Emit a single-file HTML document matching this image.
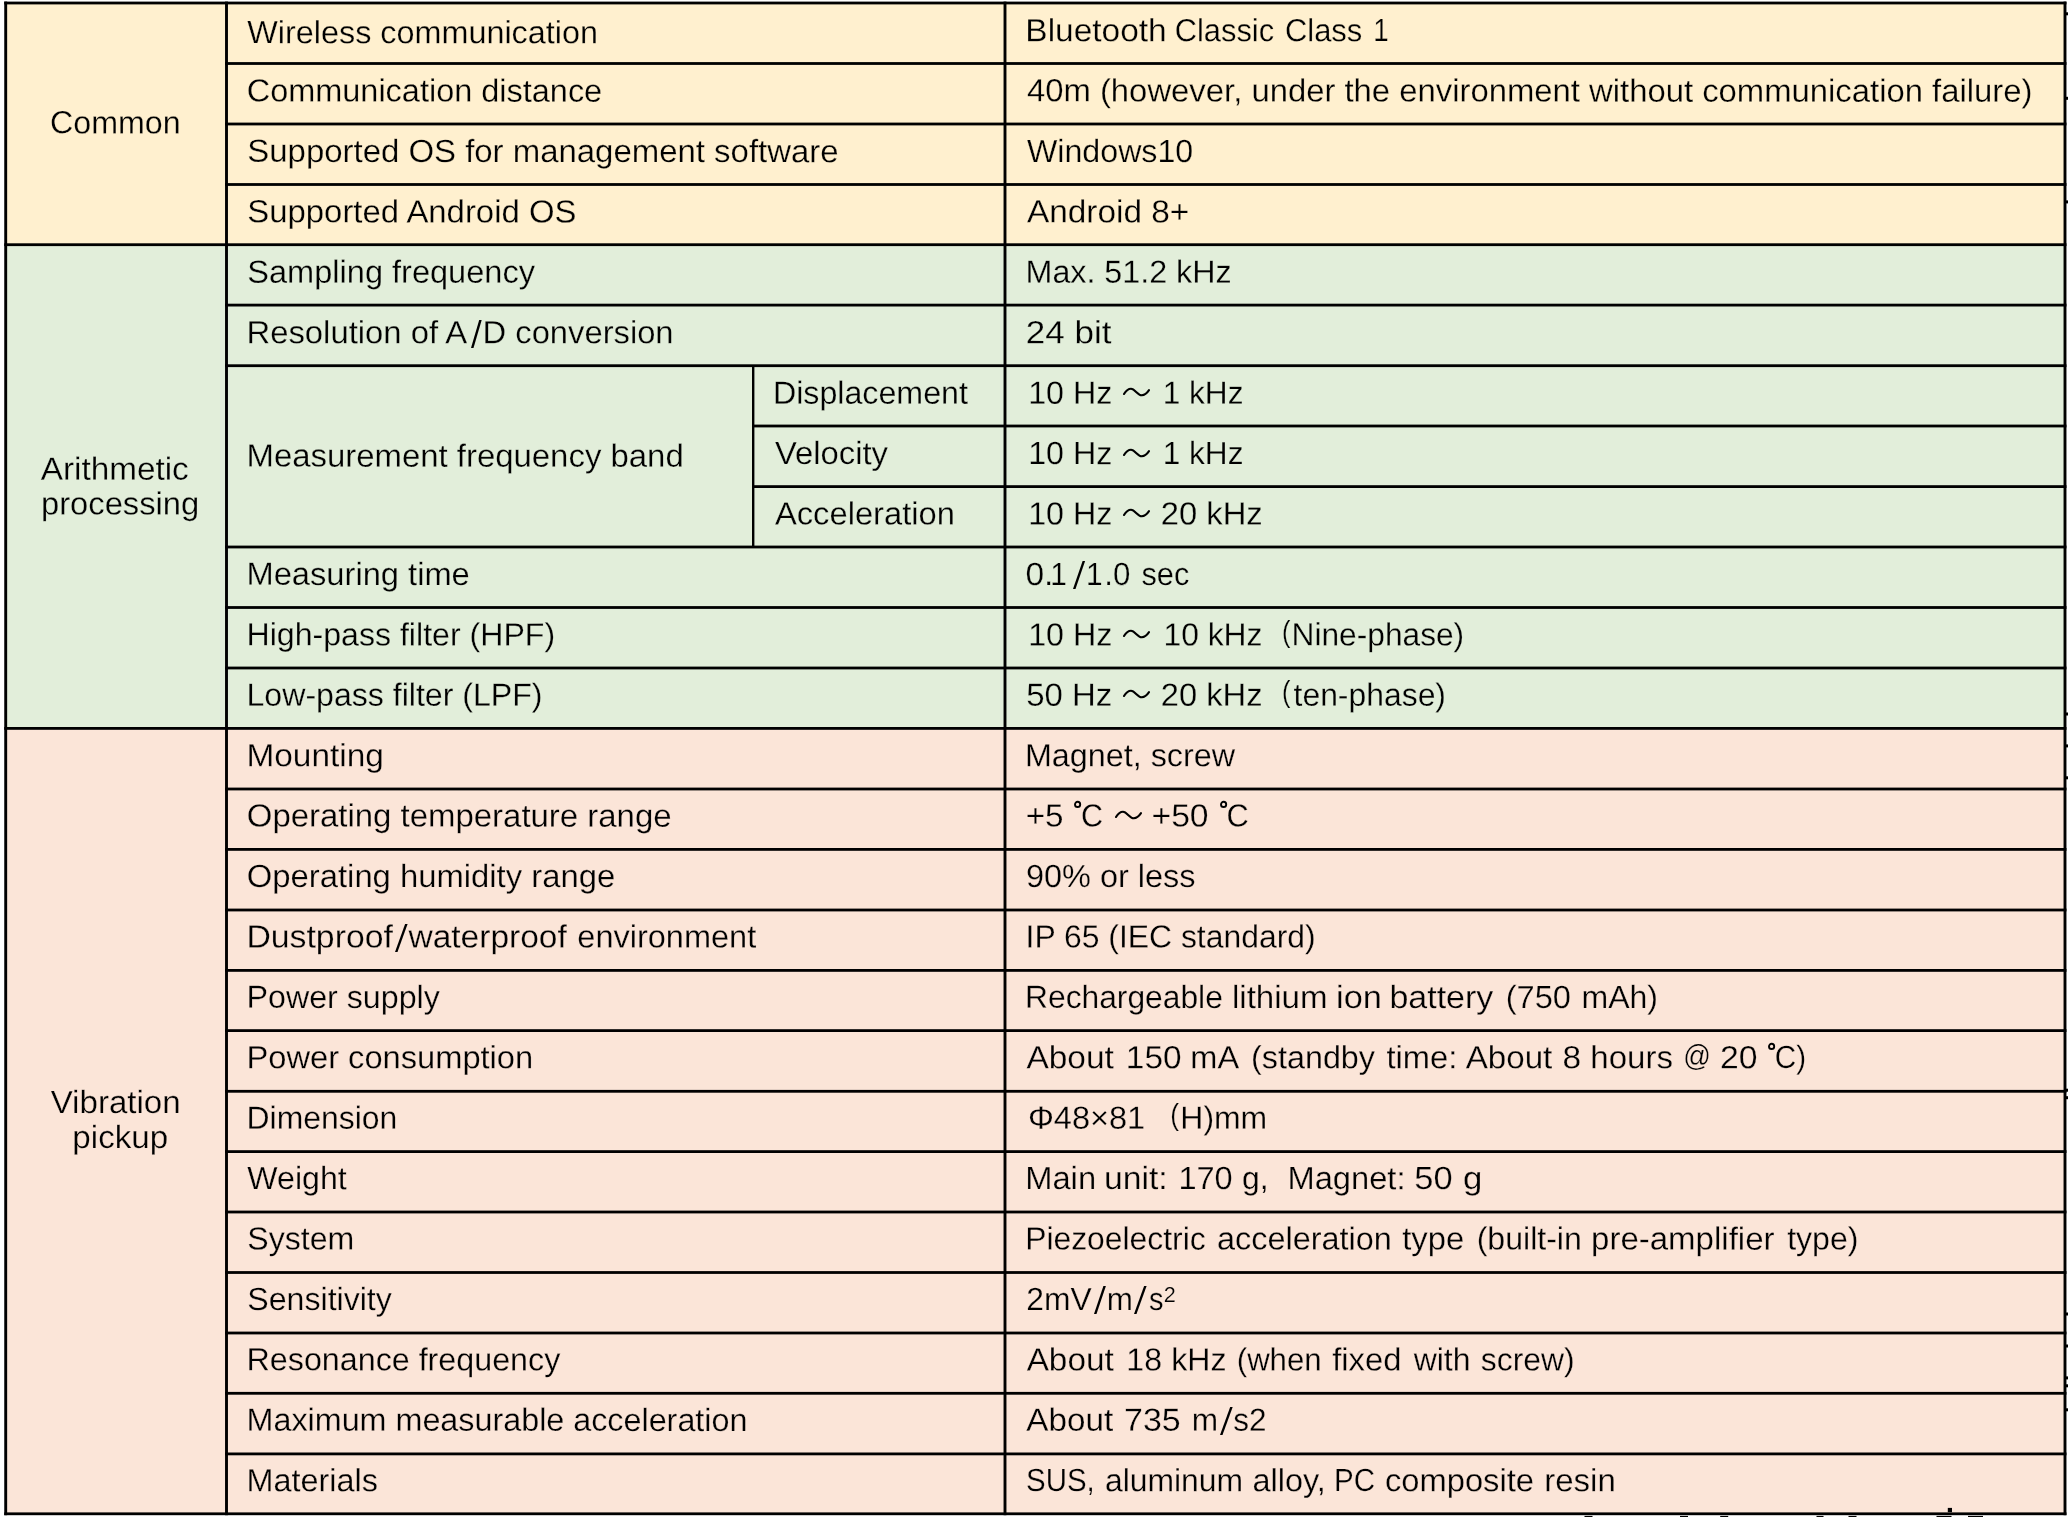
<!DOCTYPE html>
<html lang="en">
<head>
<meta charset="utf-8">
<title>Specifications</title>
<style>
html,body{margin:0;padding:0;background:#fff;overflow:hidden;}
#spec{position:relative;width:2068px;height:1517px;overflow:hidden;background:#fff;font-family:"Liberation Sans", sans-serif;font-size:32px;line-height:40px;color:#000;}
#spec div{position:absolute;}
#txt{left:0;top:0;width:2068px;height:1517px;will-change:transform;}
.t{left:0;top:0;white-space:pre;transform-origin:0 0;height:40px;}
.y{-webkit-text-stroke:0.25px #FFF0CF;}
.g{-webkit-text-stroke:0.25px #E2EEDA;}
.p{-webkit-text-stroke:0.25px #FBE5D8;}
#grid{position:absolute;left:0;top:0;fill:#000;}
#spec svg.w{position:absolute;fill:none;stroke:#000;stroke-width:2.1;stroke-linecap:round;overflow:visible;}
#spec svg.s{position:absolute;fill:#000;overflow:visible;}
#spec svg.d{position:absolute;fill:none;stroke:#000;stroke-width:1.9;overflow:visible;}
</style>
</head>
<body>
<div id="spec">
<svg id="grid" width="2068" height="1517" viewBox="0 0 2068 1517">
<rect x="5.7" y="3.0" width="2059.3" height="241.7" fill="#FFF0CF"/>
<rect x="5.7" y="244.7" width="2059.3" height="483.7" fill="#E2EEDA"/>
<rect x="5.7" y="728.4" width="2059.3" height="785.4" fill="#FBE5D8"/>
<rect x="4.25" y="1.60" width="2062.20" height="2.8"/>
<rect x="225.05" y="62.10" width="1841.40" height="2.8"/>
<rect x="225.05" y="122.60" width="1841.40" height="2.8"/>
<rect x="225.05" y="183.10" width="1841.40" height="2.8"/>
<rect x="4.25" y="243.30" width="2062.20" height="2.8"/>
<rect x="225.05" y="303.70" width="1841.40" height="2.8"/>
<rect x="225.05" y="364.30" width="1841.40" height="2.8"/>
<rect x="752.00" y="424.60" width="1314.45" height="2.8"/>
<rect x="752.00" y="485.20" width="1314.45" height="2.8"/>
<rect x="225.05" y="545.60" width="1841.40" height="2.8"/>
<rect x="225.05" y="606.10" width="1841.40" height="2.8"/>
<rect x="225.05" y="666.60" width="1841.40" height="2.8"/>
<rect x="4.25" y="727.00" width="2062.20" height="2.8"/>
<rect x="225.05" y="787.60" width="1841.40" height="2.8"/>
<rect x="225.05" y="848.00" width="1841.40" height="2.8"/>
<rect x="225.05" y="908.60" width="1841.40" height="2.8"/>
<rect x="225.05" y="969.00" width="1841.40" height="2.8"/>
<rect x="225.05" y="1029.20" width="1841.40" height="2.8"/>
<rect x="225.05" y="1089.90" width="1841.40" height="2.8"/>
<rect x="225.05" y="1150.20" width="1841.40" height="2.8"/>
<rect x="225.05" y="1210.60" width="1841.40" height="2.8"/>
<rect x="225.05" y="1271.10" width="1841.40" height="2.8"/>
<rect x="225.05" y="1331.60" width="1841.40" height="2.8"/>
<rect x="225.05" y="1391.90" width="1841.40" height="2.8"/>
<rect x="225.05" y="1452.50" width="1841.40" height="2.8"/>
<rect x="4.25" y="1512.40" width="2062.20" height="2.8"/>
<rect x="4.25" y="1.60" width="2.9" height="1513.60"/>
<rect x="225.05" y="1.60" width="2.9" height="1513.60"/>
<rect x="1003.55" y="1.60" width="2.9" height="1513.60"/>
<rect x="2063.55" y="1.60" width="2.9" height="1513.60"/>
<rect x="752.00" y="365.70" width="2.4" height="181.30"/>
<rect x="2065.5" y="12.3" width="2.5" height="3.0"/>
<rect x="2065.5" y="96.8" width="2.5" height="3.0"/>
<rect x="2065.5" y="200.4" width="2.5" height="3.0"/>
<rect x="2065.5" y="712.5" width="2.5" height="3.0"/>
<rect x="2065.5" y="744.4" width="2.5" height="3.0"/>
<rect x="2065.5" y="776.3" width="2.5" height="3.0"/>
<rect x="2065.5" y="1088.7" width="2.5" height="3.0"/>
<rect x="2065.5" y="1096.2" width="2.5" height="3.0"/>
<rect x="2065.5" y="1312.5" width="2.5" height="3.0"/>
<rect x="2065.5" y="1344.5" width="2.5" height="3.0"/>
<rect x="2065.5" y="1376.4" width="2.5" height="3.0"/>
<rect x="2065.5" y="1384.3" width="2.5" height="3.0"/>
<rect x="2065.5" y="1408.3" width="2.5" height="3.0"/>
<rect x="1584.5" y="1515.9" width="8" height="1.1"/>
<rect x="1680" y="1515.9" width="8" height="1.1"/>
<rect x="1720.2" y="1515.9" width="8" height="1.1"/>
<rect x="1816.5" y="1515.9" width="7" height="1.1"/>
<rect x="1848.5" y="1515.9" width="8" height="1.1"/>
<rect x="1936.5" y="1515.9" width="15" height="1.1"/>
<rect x="1968" y="1515.9" width="15" height="1.1"/>
<rect x="1947.8" y="1507.9" width="4.2" height="4.3"/>
</svg>
<div id="txt">
<div class="t y" style="transform:translate(50.14px,102.37px) rotate(0.03deg) scaleX(1.0054)">Common</div>
<div class="t g" style="transform:translate(40.75px,448.67px) rotate(0.03deg) scaleX(1.0404)">Arithmetic</div>
<div class="t g" style="transform:translate(41.00px,483.47px) rotate(0.03deg) scaleX(1.0228)">processing</div>
<div class="t p" style="transform:translate(50.65px,1081.97px) rotate(0.03deg) scaleX(1.0345)">Vibration</div>
<div class="t p" style="transform:translate(72.38px,1116.98px) rotate(0.03deg) scaleX(1.0345)">pickup</div>
<div class="t y" style="transform:translate(247.35px,12.11px) rotate(0.03deg) scaleX(1.0111)">Wireless communication</div>
<div class="t y" style="transform:translate(246.74px,70.51px) rotate(0.03deg) scaleX(1.0144)">Communication distance</div>
<div class="t y" style="transform:translate(247.32px,130.85px) rotate(0.03deg) scaleX(1.0291)">Supported OS for management software</div>
<div class="t y" style="transform:translate(247.32px,191.32px) rotate(0.03deg) scaleX(1.0277)">Supported Android OS</div>
<div class="t g" style="transform:translate(247.33px,251.73px) rotate(0.03deg) scaleX(1.0169)">Sampling frequency</div>
<div class="t g" style="transform:translate(246.50px,312.25px) rotate(0.03deg) scaleX(1.0256)">Resolution of A</div>
<svg class="s" style="left:470.6px;top:319.6px" width="10.7" height="28.0" viewBox="0 0 10.7 28.0"><polygon points="0,28.0 2.5,28.0 10.7,0 8.2,0"/></svg>
<div class="t g" style="transform:translate(482.60px,312.26px) rotate(0.03deg) scaleX(1.0227)">D conversion</div>
<div class="t g" style="transform:translate(246.49px,435.59px) rotate(0.03deg) scaleX(1.0284)">Measurement frequency band</div>
<div class="t g" style="transform:translate(246.51px,553.85px) rotate(0.03deg) scaleX(1.0206)">Measuring time</div>
<div class="t g" style="transform:translate(246.54px,614.33px) rotate(0.03deg) scaleX(1.0031)">High-pass filter (HPF)</div>
<div class="t g" style="transform:translate(246.54px,674.73px) rotate(0.03deg) scaleX(1.0026)">Low-pass filter (LPF)</div>
<div class="t p" style="transform:translate(246.46px,735.17px) rotate(0.03deg) scaleX(1.0435)">Mounting</div>
<div class="t p" style="transform:translate(246.82px,795.50px) rotate(0.03deg) scaleX(1.0292)">Operating temperature range</div>
<div class="t p" style="transform:translate(246.82px,855.91px) rotate(0.03deg) scaleX(1.0251)">Operating humidity range</div>
<div class="t p" style="transform:translate(246.44px,916.47px) rotate(0.03deg) scaleX(1.0552)">Dustproof</div>
<svg class="s" style="left:394.5px;top:923.8px" width="12.6" height="28.0" viewBox="0 0 12.6 28.0"><polygon points="0,28.0 2.5,28.0 12.6,0 10.1,0"/></svg>
<div class="t p" style="transform:translate(408.50px,916.46px) rotate(0.03deg) scaleX(1.0466)">waterproof</div>
<div class="t p" style="transform:translate(577.33px,916.46px) rotate(0.03deg) scaleX(1.0160)">environment</div>
<div class="t p" style="transform:translate(246.54px,976.86px) rotate(0.03deg) scaleX(1.0063)">Power supply</div>
<div class="t p" style="transform:translate(246.51px,1037.23px) rotate(0.03deg) scaleX(1.0201)">Power consumption</div>
<div class="t p" style="transform:translate(246.56px,1097.67px) rotate(0.03deg) scaleX(0.9968)">Dimension</div>
<div class="t p" style="transform:translate(247.35px,1158.08px) rotate(0.03deg) scaleX(1.0038)">Weight</div>
<div class="t p" style="transform:translate(247.35px,1218.58px) rotate(0.03deg) scaleX(1.0016)">System</div>
<div class="t p" style="transform:translate(247.35px,1278.97px) rotate(0.03deg) scaleX(1.0032)">Sensitivity</div>
<div class="t p" style="transform:translate(246.53px,1339.32px) rotate(0.03deg) scaleX(1.0080)">Resonance frequency</div>
<div class="t p" style="transform:translate(246.53px,1399.68px) rotate(0.03deg) scaleX(1.0095)">Maximum measurable acceleration</div>
<div class="t p" style="transform:translate(246.53px,1460.17px) rotate(0.03deg) scaleX(1.0117)">Materials</div>
<div class="t g" style="transform:translate(772.94px,372.66px) rotate(0.03deg) scaleX(1.0059)">Displacement</div>
<div class="t g" style="transform:translate(774.95px,433.08px) rotate(0.03deg) scaleX(1.0247)">Velocity</div>
<div class="t g" style="transform:translate(774.95px,493.46px) rotate(0.03deg) scaleX(1.0218)">Acceleration</div>
<div class="t y" style="transform:translate(1025.36px,10.17px) rotate(0.03deg) scaleX(1.0447)">Bluetooth</div>
<div class="t y" style="transform:translate(1174.79px,10.18px) rotate(0.03deg) scaleX(0.9625)">Classic</div>
<div class="t y" style="transform:translate(1284.98px,10.19px) rotate(0.03deg) scaleX(0.9665)">Class</div>
<div class="t y" style="transform:translate(1373.32px,10.20px) rotate(0.03deg) scaleX(0.8667)">1</div>
<div class="t y" style="transform:translate(1026.95px,70.34px) rotate(0.03deg) scaleX(1.0260)">40m (however, under the environment without communication failure)</div>
<div class="t y" style="transform:translate(1026.95px,130.96px) rotate(0.03deg) scaleX(1.0054)">Windows10</div>
<div class="t y" style="transform:translate(1026.95px,191.36px) rotate(0.03deg) scaleX(1.0427)">Android 8+</div>
<div class="t g" style="transform:translate(1025.54px,251.75px) rotate(0.03deg) scaleX(1.0074)">Max. 51.2 kHz</div>
<div class="t g" style="transform:translate(1025.86px,312.28px) rotate(0.03deg) scaleX(1.0932)">24 bit</div>
<div class="t g" style="transform:translate(1028.24px,372.69px) rotate(0.03deg) scaleX(1.0050)">10 Hz</div>
<div class="t g" style="transform:translate(1162.68px,372.69px) rotate(0.03deg) scaleX(0.9873)">1 kHz</div>
<div class="t g" style="transform:translate(1028.24px,433.09px) rotate(0.03deg) scaleX(1.0050)">10 Hz</div>
<div class="t g" style="transform:translate(1162.68px,433.09px) rotate(0.03deg) scaleX(0.9873)">1 kHz</div>
<div class="t g" style="transform:translate(1028.24px,493.49px) rotate(0.03deg) scaleX(1.0050)">10 Hz</div>
<div class="t g" style="transform:translate(1160.73px,493.48px) rotate(0.03deg) scaleX(1.0236)">20 kHz</div>
<div class="t g" style="transform:translate(1025.40px,553.90px) rotate(0.03deg) scaleX(1.0484)">0.</div>
<div class="t g" style="transform:translate(1050.18px,553.90px) rotate(0.03deg) scaleX(0.9333)">1</div>
<svg class="s" style="left:1072.6px;top:561.2px" width="12.1" height="28.0" viewBox="0 0 12.1 28.0"><polygon points="0,28.0 2.5,28.0 12.1,0 9.6,0"/></svg>
<div class="t g" style="transform:translate(1085.98px,553.90px) rotate(0.03deg) scaleX(0.9333)">1</div>
<div class="t g" style="transform:translate(1104.30px,553.90px) rotate(0.03deg) scaleX(0.9753)">.0</div>
<div class="t g" style="transform:translate(1141.55px,553.89px) rotate(0.03deg) scaleX(0.9579)">sec</div>
<div class="t g" style="transform:translate(1028.24px,614.39px) rotate(0.03deg) scaleX(1.0050)">10 Hz</div>
<div class="t g" style="transform:translate(1163.46px,614.38px) rotate(0.03deg) scaleX(0.9939)">10 kHz</div>
<div class="t g" style="transform-origin:0 31.09px;transform:translate(1281.96px,610.73px) rotate(0.03deg) scale(0.7900,0.9100)">(</div>
<div class="t g" style="transform:translate(1291.57px,614.36px) rotate(0.03deg) scaleX(0.9903)">Nine-phase)</div>
<div class="t g" style="transform:translate(1026.22px,674.78px) rotate(0.03deg) scaleX(1.0295)">50 Hz</div>
<div class="t g" style="transform:translate(1160.83px,674.78px) rotate(0.03deg) scaleX(1.0206)">20 kHz</div>
<div class="t g" style="transform-origin:0 31.09px;transform:translate(1281.96px,671.13px) rotate(0.03deg) scale(0.7900,0.9100)">(</div>
<div class="t g" style="transform:translate(1293.55px,674.77px) rotate(0.03deg) scaleX(0.9965)">ten-phase)</div>
<div class="t p" style="transform:translate(1024.93px,735.15px) rotate(0.03deg) scaleX(1.0098)">Magnet, screw</div>
<div class="t p" style="transform:translate(1025.71px,795.60px) rotate(0.03deg) scaleX(1.0378)">+5</div>
<div class="t p" style="transform:translate(1081.00px,795.60px) rotate(0.03deg) scaleX(0.9524)">C</div>
<div class="t p" style="transform:translate(1151.50px,795.59px) rotate(0.03deg) scaleX(1.0517)">+50</div>
<div class="t p" style="transform:translate(1226.59px,795.60px) rotate(0.03deg) scaleX(0.9619)">C</div>
<div class="t p" style="transform:translate(1025.94px,855.96px) rotate(0.03deg) scaleX(1.0146)">90% or less</div>
<div class="t p" style="transform:translate(1025.56px,916.43px) rotate(0.03deg) scaleX(0.9964)">IP 65 (IEC standard)</div>
<div class="t p" style="transform:translate(1025.06px,976.86px) rotate(0.03deg) scaleX(0.9926)">Rechargeable</div>
<div class="t p" style="transform:translate(1231.98px,976.88px) rotate(0.03deg) scaleX(1.0336)">lithium</div>
<div class="t p" style="transform:translate(1336.11px,976.90px) rotate(0.03deg) scaleX(1.0718)">ion</div>
<div class="t p" style="transform:translate(1389.43px,976.88px) rotate(0.03deg) scaleX(1.0623)">battery</div>
<div class="t p" style="transform:translate(1505.73px,976.89px) rotate(0.03deg) scaleX(1.0185)">(750</div>
<div class="t p" style="transform:translate(1581.45px,976.89px) rotate(0.03deg) scaleX(1.0014)">mAh)</div>
<div class="t p" style="transform:translate(1026.45px,1037.28px) rotate(0.03deg) scaleX(1.0450)">About</div>
<div class="t p" style="transform:translate(1125.86px,1037.29px) rotate(0.03deg) scaleX(1.0436)">150</div>
<div class="t p" style="transform:translate(1190.32px,1037.29px) rotate(0.03deg) scaleX(1.0159)">mA</div>
<div class="t p" style="transform:translate(1251.14px,1037.27px) rotate(0.03deg) scaleX(1.0088)">(standby</div>
<div class="t p" style="transform:translate(1386.55px,1037.29px) rotate(0.03deg) scaleX(1.0203)">time:</div>
<div class="t p" style="transform:translate(1465.65px,1037.28px) rotate(0.03deg) scaleX(1.0366)">About</div>
<div class="t p" style="transform:translate(1562.41px,1037.30px) rotate(0.03deg) scaleX(1.0437)">8</div>
<div class="t p" style="transform:translate(1590.39px,1037.29px) rotate(0.03deg) scaleX(1.0318)">hours</div>
<div class="t p" style="transform-origin:0 31.09px;transform:translate(1683.15px,1034.59px) rotate(0.03deg) scale(0.8500,0.9037)">@</div>
<div class="t p" style="transform:translate(1720.10px,1037.30px) rotate(0.03deg) scaleX(1.0534)">20</div>
<div class="t p" style="transform:translate(1774.82px,1037.30px) rotate(0.03deg) scaleX(0.9258)">C)</div>
<div class="t p" style="transform:translate(1027.93px,1097.68px) rotate(0.03deg) scaleX(1.0158)">Φ48×81</div>
<div class="t p" style="transform-origin:0 31.09px;transform:translate(1170.23px,1094.03px) rotate(0.03deg) scale(0.8200,0.9100)">(</div>
<div class="t p" style="transform:translate(1180.36px,1097.68px) rotate(0.03deg) scaleX(0.9973)">H)mm</div>
<div class="t p" style="transform:translate(1025.21px,1158.09px) rotate(0.03deg) scaleX(1.0219)">Main</div>
<div class="t p" style="transform:translate(1104.05px,1158.09px) rotate(0.03deg) scaleX(1.0523)">unit:</div>
<div class="t p" style="transform:translate(1178.41px,1158.09px) rotate(0.03deg) scaleX(1.0179)">170</div>
<div class="t p" style="transform:translate(1242.05px,1158.10px) rotate(0.03deg) scaleX(0.9959)">g,</div>
<div class="t p" style="transform:translate(1287.51px,1158.08px) rotate(0.03deg) scaleX(1.0205)">Magnet:</div>
<div class="t p" style="transform:translate(1414.27px,1158.10px) rotate(0.03deg) scaleX(1.0770)">50</div>
<div class="t p" style="transform:translate(1462.96px,1158.10px) rotate(0.03deg) scaleX(1.0867)">g</div>
<div class="t p" style="transform:translate(1025.16px,1218.56px) rotate(0.03deg) scaleX(0.9955)">Piezoelectric</div>
<div class="t p" style="transform:translate(1217.04px,1218.56px) rotate(0.03deg) scaleX(1.0127)">acceleration</div>
<div class="t p" style="transform:translate(1402.25px,1218.59px) rotate(0.03deg) scaleX(1.0237)">type</div>
<div class="t p" style="transform:translate(1476.65px,1218.58px) rotate(0.03deg) scaleX(1.0027)">(built-in</div>
<div class="t p" style="transform:translate(1591.09px,1218.56px) rotate(0.03deg) scaleX(1.0314)">pre-amplifier</div>
<div class="t p" style="transform:translate(1787.15px,1218.59px) rotate(0.03deg) scaleX(1.0017)">type)</div>
<div class="t p" style="transform:translate(1026.36px,1278.99px) rotate(0.03deg) scaleX(0.9946)">2mV</div>
<svg class="s" style="left:1094.2px;top:1286.3px" width="11.9" height="28.0" viewBox="0 0 11.9 28.0"><polygon points="0,28.0 2.5,28.0 11.9,0 9.4,0"/></svg>
<div class="t p" style="transform:translate(1106.88px,1279.00px) rotate(0.03deg) scaleX(0.9826)">m</div>
<svg class="s" style="left:1134.4px;top:1286.3px" width="12.6" height="28.0" viewBox="0 0 12.6 28.0"><polygon points="0,28.0 2.5,28.0 12.6,0 10.1,0"/></svg>
<div class="t p" style="transform:translate(1149.05px,1279.00px) rotate(0.03deg) scaleX(0.9067)">s</div>
<div class="t p" style="transform-origin:0 31.09px;transform:translate(1163.67px,1270.90px) rotate(0.03deg) scale(0.6750,0.6636)">2</div>
<div class="t p" style="transform:translate(1026.65px,1339.38px) rotate(0.03deg) scaleX(1.0414)">About</div>
<div class="t p" style="transform:translate(1126.35px,1339.40px) rotate(0.03deg) scaleX(1.0001)">18</div>
<div class="t p" style="transform:translate(1171.35px,1339.39px) rotate(0.03deg) scaleX(1.0017)">kHz</div>
<div class="t p" style="transform:translate(1236.78px,1339.38px) rotate(0.03deg) scaleX(0.9732)">(when</div>
<div class="t p" style="transform:translate(1332.25px,1339.39px) rotate(0.03deg) scaleX(1.0228)">fixed</div>
<div class="t p" style="transform:translate(1413.65px,1339.39px) rotate(0.03deg) scaleX(0.9981)">with</div>
<div class="t p" style="transform:translate(1480.85px,1339.38px) rotate(0.03deg) scaleX(0.9939)">screw)</div>
<div class="t p" style="transform:translate(1026.35px,1399.78px) rotate(0.03deg) scaleX(1.0378)">About</div>
<div class="t p" style="transform:translate(1124.09px,1399.79px) rotate(0.03deg) scaleX(1.0602)">735</div>
<div class="t p" style="transform:translate(1191.68px,1399.80px) rotate(0.03deg) scaleX(0.9870)">m</div>
<svg class="s" style="left:1219.5px;top:1407.1px" width="12.7" height="28.0" viewBox="0 0 12.7 28.0"><polygon points="0,28.0 2.5,28.0 12.7,0 10.2,0"/></svg>
<div class="t p" style="transform:translate(1233.25px,1399.80px) rotate(0.03deg) scaleX(0.9848)">s2</div>
<div class="t p" style="transform:translate(1026.13px,1460.19px) rotate(0.03deg) scaleX(0.9193)">SUS,</div>
<div class="t p" style="transform:translate(1104.95px,1460.17px) rotate(0.03deg) scaleX(0.9959)">aluminum</div>
<div class="t p" style="transform:translate(1252.44px,1460.19px) rotate(0.03deg) scaleX(1.0139)">alloy,</div>
<div class="t p" style="transform:translate(1334.01px,1460.20px) rotate(0.03deg) scaleX(0.9215)">PC</div>
<div class="t p" style="transform:translate(1384.93px,1460.17px) rotate(0.03deg) scaleX(1.0219)">composite</div>
<div class="t p" style="transform:translate(1544.29px,1460.19px) rotate(0.03deg) scaleX(1.0311)">resin</div>
</div>
<svg class="w" style="left:1121.7px;top:386.1px" width="29" height="12" viewBox="0 0 29 12"><path d="M2,8 C4.2,4.4 6.6,2.8 9,2.8 C13,2.8 15.4,9.2 19.8,9.2 C22.6,9.2 25,7.2 27,4.2"/></svg>
<svg class="w" style="left:1121.7px;top:446.5px" width="29" height="12" viewBox="0 0 29 12"><path d="M2,8 C4.2,4.4 6.6,2.8 9,2.8 C13,2.8 15.4,9.2 19.8,9.2 C22.6,9.2 25,7.2 27,4.2"/></svg>
<svg class="w" style="left:1121.7px;top:506.9px" width="29" height="12" viewBox="0 0 29 12"><path d="M2,8 C4.2,4.4 6.6,2.8 9,2.8 C13,2.8 15.4,9.2 19.8,9.2 C22.6,9.2 25,7.2 27,4.2"/></svg>
<svg class="w" style="left:1122.0px;top:627.8px" width="29" height="12" viewBox="0 0 29 12"><path d="M2,8 C4.2,4.4 6.6,2.8 9,2.8 C13,2.8 15.4,9.2 19.8,9.2 C22.6,9.2 25,7.2 27,4.2"/></svg>
<svg class="w" style="left:1122.0px;top:688.2px" width="29" height="12" viewBox="0 0 29 12"><path d="M2,8 C4.2,4.4 6.6,2.8 9,2.8 C13,2.8 15.4,9.2 19.8,9.2 C22.6,9.2 25,7.2 27,4.2"/></svg>
<svg class="w" style="left:1113.6px;top:809.0px" width="29" height="12" viewBox="0 0 29 12"><path d="M2,8 C4.2,4.4 6.6,2.8 9,2.8 C13,2.8 15.4,9.2 19.8,9.2 C22.6,9.2 25,7.2 27,4.2"/></svg>
<svg class="d" style="left:1073.3px;top:800.0px" width="10" height="10" viewBox="0 0 10 10"><circle cx="4.6" cy="4.4" r="2.6"/></svg>
<svg class="d" style="left:1218.8px;top:800.0px" width="10" height="10" viewBox="0 0 10 10"><circle cx="4.6" cy="4.4" r="2.6"/></svg>
<svg class="d" style="left:1767.3px;top:1041.6px" width="10" height="10" viewBox="0 0 10 10"><circle cx="4.6" cy="4.4" r="2.6"/></svg>
</div>
</body>
</html>
